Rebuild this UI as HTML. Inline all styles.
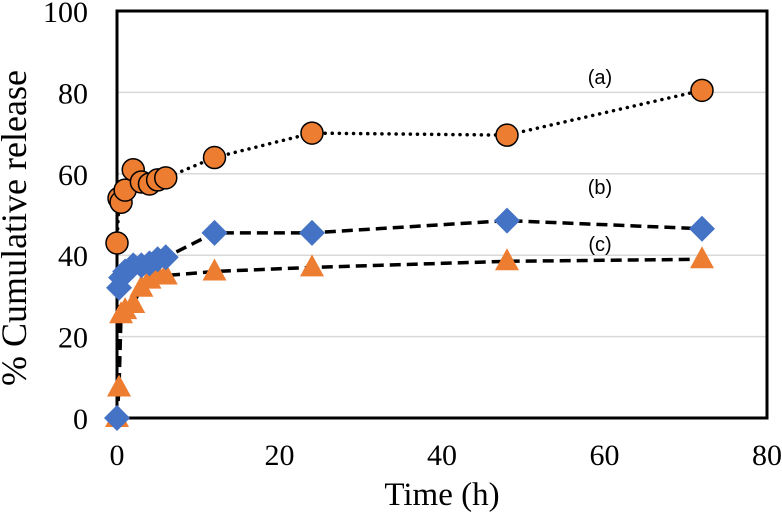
<!DOCTYPE html>
<html><head><meta charset="utf-8"><style>
body{margin:0;background:#fff}
svg{display:block}
</style></head><body>
<svg id="chart" width="782" height="515" viewBox="0 0 782 515" xmlns="http://www.w3.org/2000/svg">
<g id="grid"></g>
<g id="axes"></g>
<g id="series"></g>
<g id="labels"></g>
</svg>
<script>
const times = [0,0.25,0.5,1,2,3,4,5,6,12,24,48,72];
const seriesA = [43,54,53,56,61,58,57.5,58.5,59,64,70,69.5,80.5];
const seriesB = [0,32,34.5,36,37.5,37.5,38,39,39.5,45.5,45.5,48.5,46.5];
const seriesC = [0,7.5,25.5,26.5,28,32,34,35,35,36,37,38.5,39];
const xTicks = [0,20,40,60,80];
const yTicks = [0,20,40,60,80,100];
const seriesLabels = ["(a)","(b)","(c)"];

const NS="http://www.w3.org/2000/svg";
const L=117,R=767,T=11,B=418;
const xs=v=>L+(v/80)*(R-L);
const ys=v=>B-(v/100)*(B-T);
function mk(tag,attrs,parent){const e=document.createElementNS(NS,tag);for(const k in attrs)e.setAttribute(k,attrs[k]);parent.appendChild(e);return e;}
const grid=document.getElementById('grid'),axes=document.getElementById('axes'),ser=document.getElementById('series'),lab=document.getElementById('labels');

yTicks.forEach(v=>{
  if(v>0&&v<100){const g=mk('line',{x1:L,x2:R,y1:ys(v),y2:ys(v),stroke:'#d9d9d9','stroke-width':1.5},grid);
  
  }
  const t=mk('text',{x:88,y:ys(v)+11,'text-anchor':'end','font-family':'Liberation Serif, serif','font-size':30,fill:'#000'},axes);
  t.textContent=v;
  
  
});
xTicks.forEach(v=>{
  const t=mk('text',{x:xs(v),y:465,'text-anchor':'middle','font-family':'Liberation Serif, serif','font-size':30,fill:'#000'},axes);
  t.textContent=v;
  
  
});
const frame=mk('rect',{x:L,y:T,width:R-L,height:B-T,fill:'none',stroke:'#000','stroke-width':3},axes);


const xt=mk('text',{x:442,y:505,'text-anchor':'middle','font-family':'Liberation Serif, serif','font-size':33},axes);
xt.textContent='Time (h)';


const yt=mk('text',{x:0,y:0,'text-anchor':'middle','font-family':'Liberation Serif, serif','font-size':36,transform:'translate(26,228) rotate(-90)'},axes);
yt.textContent='% Cumulative release';



function line(vals,dash,name){
  const pts=times.map((t,i)=>xs(t)+','+ys(vals[i])).join(' ');
  const p=mk('polyline',{points:pts,fill:'none',stroke:'#000','stroke-width':3.5,'stroke-dasharray':dash,'stroke-linecap':dash==='0.1 7'?'round':'butt'},ser);
  
  
}
line(seriesA,'0.1 7','line-a');
line(seriesB,'11 6','line-b');
line(seriesC,'11 6','line-c');

times.forEach((t,i)=>{
  const x=xs(t),y=ys(seriesC[i]);
  const m=mk('polygon',{points:`${x},${y-13} ${x+12},${y+9} ${x-12},${y+9}`,fill:'#ed7d31'},ser);
  
  
});
times.forEach((t,i)=>{
  const x=xs(t),y=ys(seriesB[i]);
  const m=mk('polygon',{points:`${x},${y-13} ${x+13},${y} ${x},${y+13} ${x-13},${y}`,fill:'#4472c4'},ser);
  
  
});
times.forEach((t,i)=>{
  const m=mk('circle',{cx:xs(t),cy:ys(seriesA[i]),r:11,fill:'#ed7d31',stroke:'#000','stroke-width':1.5},ser);
  
  
});
const lp=[[600,84],[600,194],[600,251]];
seriesLabels.forEach((s,i)=>{
  const t=mk('text',{x:lp[i][0],y:lp[i][1],'text-anchor':'middle','font-family':'Liberation Sans, sans-serif','font-size':20},lab);
  t.textContent=s;
  
  
});
</script>
</body></html>
